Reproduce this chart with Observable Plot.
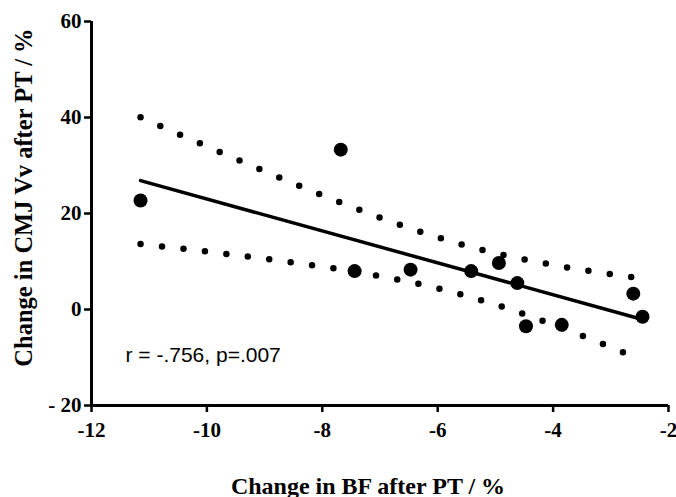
<!DOCTYPE html>
<html>
<head>
<meta charset="utf-8">
<script src="https://cdn.jsdelivr.net/npm/d3@7"></script>
<script src="https://cdn.jsdelivr.net/npm/@observablehq/plot@0.6"></script>
<style>
  html, body { margin: 0; padding: 0; background: white; }
</style>
</head>
<body>
<div id="chart"></div>
<script>
// Data
const bfChange  = [-11.15, -7.68, -7.44, -6.47, -5.42, -4.94, -4.62, -4.47, -3.85, -2.61, -2.45];
const cmjChange = [22.7, 33.3, 8.0, 8.3, 8.0, 9.7, 5.5, -3.5, -3.2, 3.3, -1.5];
const xTicks = [-12, -10, -8, -6, -4, -2];
const xTickLabels = ["-12", "-10", "-8", "-6", "-4", "-2"];
const yTicks = [-20, 0, 20, 40, 60];
const yTickLabels = ["- 20", "0", "20", "40", "60"];
const xTitle = "Change in BF after PT / %";
const yTitle = "Change in CMJ Vv after PT / %";
const statText = "r = -.756, p=.007";

const points = bfChange.map((x, i) => ({x, y: cmjChange[i]}));

// 95% confidence band of the regression line, computed from the data
const n = points.length;
const mx = d3.mean(bfChange), my = d3.mean(cmjChange);
const sxx = d3.sum(bfChange, x => (x - mx) ** 2);
const sxy = d3.sum(points, p => (p.x - mx) * (p.y - my));
const slope = sxy / sxx, intercept = my - slope * mx;
const sse = d3.sum(points, p => (p.y - (intercept + slope * p.x)) ** 2);
const s = Math.sqrt(sse / (n - 2));
const tCrit = 2.262; // t(0.975, df = 9)
const [x0, x1] = d3.extent(bfChange);
const band = d3.range(0, 201).map(k => {
  const x = x0 + (x1 - x0) * k / 200;
  const yh = intercept + slope * x;
  const h = tCrit * s * Math.sqrt(1 / n + (x - mx) ** 2 / sxx);
  return {x, lo: yh - h, hi: yh + h};
});

const chart = Plot.plot({
  width: 676,
  height: 497,
  marginLeft: 91,
  marginRight: 8,
  marginTop: 21,
  marginBottom: 92,
  style: {background: "white", color: "black", fontFamily: "'Liberation Serif', 'Times New Roman', serif"},
  x: {domain: [-12, -2]},
  y: {domain: [-20, 60]},
  marks: [
    Plot.axisY({ticks: yTicks, tickFormat: (d) => yTickLabels[yTicks.indexOf(d)], tickSize: 7, tickPadding: 3,
      fontSize: 21, fontWeight: "bold", strokeWidth: 2.5, label: null}),
    Plot.axisX({ticks: xTicks, tickFormat: (d) => xTickLabels[xTicks.indexOf(d)], tickSize: 7, tickPadding: 10,
      fontSize: 21, fontWeight: "bold", strokeWidth: 2.5, label: null}),
    Plot.ruleX([-12], {strokeWidth: 3}),
    Plot.ruleY([-20], {strokeWidth: 3}),
    Plot.line(band, {x: "x", y: "hi", stroke: "black", strokeWidth: 6.5, strokeDasharray: "0 21.6", strokeLinecap: "round"}),
    Plot.line(band, {x: "x", y: "lo", stroke: "black", strokeWidth: 6.5, strokeDasharray: "0 21.6", strokeLinecap: "round"}),
    Plot.linearRegressionY(points, {x: "x", y: "y", ci: 0, stroke: "black", strokeWidth: 3.5}),
    Plot.dot(points, {x: "x", y: "y", r: 7, fill: "black", stroke: "none"}),
    Plot.text([statText], {frameAnchor: "bottom-left", dx: 34, dy: -44, textAnchor: "start", lineAnchor: "bottom",
      fontFamily: "'Liberation Sans', Arial, sans-serif", fontSize: 21, fill: "black"}),
    Plot.text([xTitle], {frameAnchor: "bottom", dx: -12, dy: 88, lineAnchor: "bottom", textAnchor: "middle",
      fontSize: 24, fontWeight: "bold", fill: "black"}),
    Plot.text([yTitle], {frameAnchor: "left", dx: -67, dy: -16, rotate: -90, lineAnchor: "middle", textAnchor: "middle",
      fontSize: 24.5, fontWeight: "bold", fill: "black"})
  ]
});
document.getElementById("chart").appendChild(chart);
</script>
</body>
</html>
